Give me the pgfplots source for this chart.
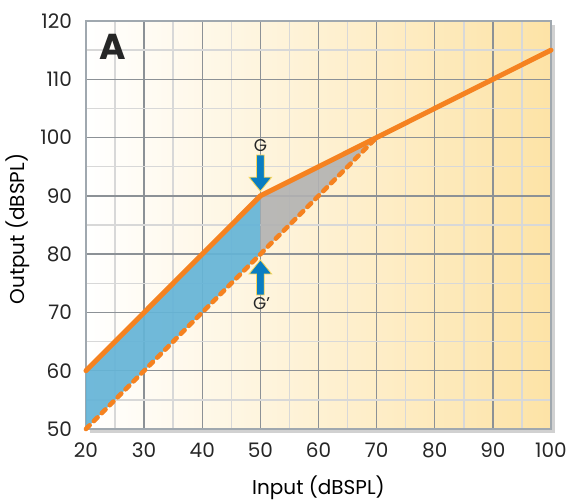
\documentclass[border=0pt]{standalone}
\usepackage{pgfplots}
\pgfplotsset{compat=1.18}
\usepackage{fontspec}
\setmainfont{Poppins}
\usetikzlibrary{shadows}
\definecolor{orng}{RGB}{245,130,32}
\definecolor{fillblue}{RGB}{100,180,215}
\definecolor{fillgray}{RGB}{178,178,178}
\definecolor{arrblue}{RGB}{10,125,193}
\definecolor{arryel}{RGB}{250,215,90}
\definecolor{bgright}{RGB}{253,227,166}
\definecolor{majgrid}{RGB}{140,145,150}
\definecolor{mingrid}{RGB}{216,216,216}
\definecolor{frame}{RGB}{160,168,175}
\begin{document}
\begin{tikzpicture}[font=\fontsize{10}{12}\selectfont]
\begin{axis}[
  at={(0,0)}, anchor=south west,
  scale only axis, width=232.5pt, height=204pt,
  xmin=20, xmax=100, ymin=50, ymax=120,
  xtick={20,30,...,100}, ytick={50,60,...,120},
  minor x tick num=1, minor y tick num=1,
  grid=both,
  major grid style={majgrid, line width=0.7pt},
  minor grid style={mingrid, line width=0.7pt},
  major tick length=0pt, minor tick length=0pt,
  axis line style={frame, line width=0.8pt},
  axis background/.style={drop shadow={shadow xshift=2pt, shadow yshift=-2pt, opacity=0.18, fill=black}, left color=white, right color=bgright},
  /pgf/number format/assume math mode=true,
  ticklabel style={text=black!85},
  yticklabel style={xshift=-3.5pt},
  xticklabel style={yshift=-3.5pt},
  xlabel={Input (dBSPL)}, ylabel={Output (dBSPL)},
  xlabel style={at={(axis description cs:0.5,0)}, anchor=center, yshift=-29.5pt},
  ylabel style={at={(axis description cs:-0.146,0.49)}, anchor=center},
  clip=false,
]
\addplot[draw=none, fill=fillblue, fill opacity=0.92] coordinates {(20,60) (50,90) (50,80) (20,50)} -- cycle;
\addplot[draw=none, fill=fillgray, fill opacity=0.9] coordinates {(50,90) (70,100) (50,80)} -- cycle;
\addplot[orng, line width=2.3pt, dash pattern=on 2.6pt off 3.0pt, line cap=round] coordinates {(20,50) (70,100)};
\addplot[orng, line width=2.5pt, line cap=round, line join=round] coordinates {(20,60) (50,90) (70,100) (100,115)};
% arrows
\draw[fill=arrblue, draw=arryel, line width=0.4pt, line join=miter]
  (axis cs:49.35,97.0) -- (axis cs:50.65,97.0) -- (axis cs:50.65,93.2) -- (axis cs:51.95,93.2) -- (axis cs:50,90.8)
  -- (axis cs:48.05,93.2) -- (axis cs:49.35,93.2) -- cycle;
\draw[fill=arrblue, draw=arryel, line width=0.4pt, line join=miter]
  (axis cs:49.35,73.0) -- (axis cs:50.65,73.0) -- (axis cs:50.65,76.6) -- (axis cs:51.95,76.6) -- (axis cs:50,79.0)
  -- (axis cs:48.05,76.6) -- (axis cs:49.35,76.6) -- cycle;
\node[font=\fontsize{8.5}{9}\selectfont, text=black!85] at (axis cs:50,98.7) {G};
\node[font=\fontsize{8.5}{9}\selectfont, text=black!85] at (axis cs:50.2,71.6) {G’};
\node[font=\fontsize{18}{20}\bfseries, text=black!85] at (axis cs:24.6,115.6) {A};
\end{axis}
\pgfresetboundingbox
\path[use as bounding box] (-43pt,-36pt) rectangle (243pt,214.5pt);
\end{tikzpicture}
\end{document}
